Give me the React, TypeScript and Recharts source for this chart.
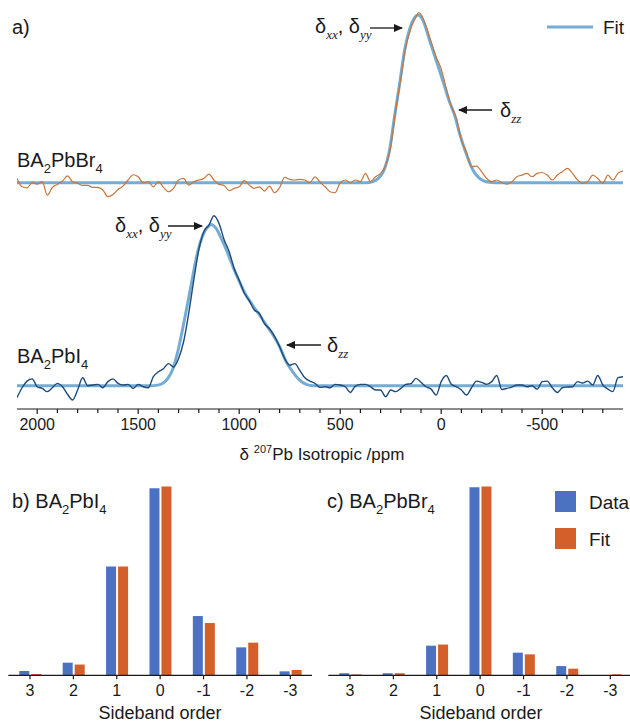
import React from 'react';
import { LineChart, Line, XAxis, YAxis, BarChart, Bar } from 'recharts';

const FONT = '"Liberation Sans", Arial, Helvetica, sans-serif';
const SERIF = '"Liberation Serif", "Times New Roman", serif';
const FIT_BLUE = '#74acd3';
const BR_ORANGE = '#c8753a';
const I_NAVY = '#1f4b7a';
const BAR_BLUE = '#4a72c0';
const BAR_ORANGE = '#d55f2b';
const INK = '#1a1a1a';

// 207Pb spectra, [ppm, normalised intensity]
const brSpectrum: [number, number][] = [
  [2100, 0.025], [2075, -0.024], [2050, -0.03], [2025, 0], [2000, -0.008], [1975, 0.006],
  [1950, -0.073], [1925, -0.027], [1900, -0.01], [1875, 0.01], [1850, 0.04], [1825, 0.006],
  [1800, -0.002], [1775, -0.016], [1750, -0.016], [1725, -0.027], [1700, -0.027], [1675, -0.043],
  [1650, -0.082], [1625, -0.069], [1600, -0.04], [1575, -0.02], [1550, 0.016], [1525, 0.047],
  [1500, 0.035], [1475, 0], [1450, 0.006], [1425, -0.024], [1400, 0.006], [1375, -0.027],
  [1350, -0.053], [1325, -0.033], [1300, 0.016], [1275, 0.025], [1250, -0.014], [1225, 0.006],
  [1200, 0.016], [1175, 0.025], [1150, 0.051], [1125, 0.016], [1100, -0.01], [1075, -0.016],
  [1050, -0.047], [1025, -0.033], [1000, -0.024], [975, 0.012], [950, -0.014], [925, -0.033],
  [900, -0.024], [875, -0.049], [850, -0.02], [825, -0.059], [800, -0.029], [775, 0.031],
  [750, 0.02], [725, 0.016], [700, 0.02], [675, 0.016], [650, 0], [625, 0.035],
  [600, 0.004], [575, -0.024], [550, -0.053], [525, -0.059], [500, 0], [475, 0.016],
  [450, 0], [425, 0.016], [400, 0.006], [375, 0.055], [350, 0.006], [325, 0.035],
  [300, 0.055], [275, 0.1], [250, 0.21], [225, 0.43], [200, 0.61], [175, 0.8],
  [150, 0.91], [125, 0.975], [112, 1.0], [100, 0.99], [75, 0.92], [50, 0.83], [25, 0.74],
  [0, 0.67], [-25, 0.555], [-50, 0.45], [-75, 0.38], [-100, 0.25], [-125, 0.18],
  [-150, 0.094], [-175, 0.098], [-200, 0.065], [-225, 0.025], [-250, 0.006], [-275, 0.016],
  [-300, 0], [-325, -0.008], [-350, 0.006], [-375, 0.035], [-400, 0.045], [-425, 0.055],
  [-450, 0.035], [-475, 0.055], [-500, 0.06], [-525, 0.045], [-550, 0.016], [-575, 0.045],
  [-600, 0.065], [-625, 0.084], [-650, 0.055], [-675, 0.016], [-700, -0.004], [-725, 0.006],
  [-750, 0.045], [-775, 0.025], [-800, -0.004], [-825, 0.045], [-850, 0.016], [-875, 0.055],
  [-900, 0.07],
];

const brFit: [number, number][] = [
  [2100, 0], [400, 0], [355, 0.002], [322, 0.016], [280, 0.084], [256, 0.19], [231, 0.39],
  [206, 0.58], [181, 0.78], [157, 0.9], [132, 0.97], [116, 0.986], [91, 0.957], [58, 0.84],
  [25, 0.72], [-8, 0.6], [-41, 0.476], [-66, 0.4], [-91, 0.29], [-124, 0.17], [-157, 0.075],
  [-190, 0.025], [-223, 0.006], [-272, 0], [-900, 0],
];

const iSpectrum: [number, number][] = [
  [2100, -0.07], [2075, -0.012], [2050, 0.027], [2025, 0.04], [2000, -0.006], [1975, -0.016],
  [1950, -0.035], [1925, -0.012], [1900, 0.014], [1875, -0.006], [1850, -0.05], [1825, -0.084],
  [1800, -0.025], [1775, 0.047], [1750, 0], [1725, 0.004], [1700, 0.008], [1675, -0.012],
  [1650, 0.024], [1625, 0.04], [1600, 0.014], [1575, 0.004], [1550, 0.008], [1525, -0.016],
  [1500, 0.008], [1475, -0.006], [1450, -0.012], [1425, 0.053], [1400, 0.082], [1375, 0.1],
  [1350, 0.13], [1325, 0.11], [1300, 0.16], [1275, 0.26], [1250, 0.425], [1225, 0.62],
  [1200, 0.8], [1175, 0.906], [1150, 0.945], [1125, 1.0], [1100, 0.955], [1075, 0.86],
  [1050, 0.79], [1025, 0.69], [1000, 0.62], [975, 0.545], [950, 0.5], [925, 0.445],
  [900, 0.425], [875, 0.365], [850, 0.335], [825, 0.29], [800, 0.23], [775, 0.16],
  [750, 0.12], [725, 0.13], [700, 0.09], [675, 0.047], [650, 0.027], [625, 0.014],
  [600, -0.01], [575, -0.006], [550, -0.012], [525, 0.008], [500, 0.004], [475, -0.006],
  [450, -0.04], [425, -0.002], [400, 0.008], [375, 0.008], [350, -0.006], [325, -0.025],
  [300, -0.025], [275, -0.065], [250, -0.025], [225, -0.035], [200, -0.016], [175, 0.008],
  [150, 0.012], [125, 0.043], [100, 0.02], [75, -0.006], [50, -0.02], [25, -0.055],
  [0, 0.024], [-25, 0.06], [-50, 0.008], [-75, -0.006], [-100, -0.025], [-125, -0.055],
  [-150, -0.012], [-175, 0.027], [-200, 0.02], [-225, 0.008], [-250, 0.024], [-275, 0.06],
  [-300, -0.022], [-325, -0.016], [-350, -0.008], [-375, 0.004], [-400, 0.004], [-425, -0.006],
  [-450, 0], [-475, -0.02], [-500, 0.024], [-525, 0.027], [-550, -0.012], [-575, -0.04],
  [-600, -0.012], [-625, -0.008], [-650, -0.006], [-675, 0.024], [-700, 0.016], [-725, 0.027],
  [-750, 0.004], [-775, 0.06], [-800, 0.004], [-825, -0.02], [-850, -0.035], [-875, 0.047],
  [-900, 0.053],
];

const iFit: [number, number][] = [
  [2100, 0], [1440, 0], [1411, 0.002], [1378, 0.014], [1353, 0.043], [1328, 0.1], [1304, 0.2],
  [1279, 0.34], [1254, 0.49], [1229, 0.65], [1205, 0.79], [1180, 0.886], [1155, 0.935],
  [1139, 0.949], [1114, 0.925], [1089, 0.867], [1064, 0.8], [1031, 0.7], [998, 0.61],
  [965, 0.53], [932, 0.47], [899, 0.416], [866, 0.357], [833, 0.3], [800, 0.23], [767, 0.14],
  [734, 0.08], [701, 0.033], [668, 0.008], [635, 0], [-900, 0],
];

const ppmTicks = [
  2000, 1900, 1800, 1700, 1600, 1500, 1400, 1300, 1200, 1100, 1000, 900, 800, 700, 600,
  500, 400, 300, 200, 100, 0, -100, -200, -300, -400, -500, -600, -700, -800,
];
const ppmLabels = [2000, 1500, 1000, 500, 0, -500];

// sideband manifolds
const sidebandOrders = ['3', '2', '1', '0', '-1', '-2', '-3'];
const pbiData = [0.023, 0.067, 0.576, 0.991, 0.314, 0.148, 0.021];
const pbiFit = [0.007, 0.057, 0.576, 1.0, 0.277, 0.173, 0.028];
const pbbrData = [0.011, 0.011, 0.157, 0.996, 0.12, 0.049, 0];
const pbbrFit = [0.005, 0.011, 0.163, 1.0, 0.111, 0.035, 0.005];

const BR_OFFSET = 1.194; // vertical stacking of the two spectra

const toRows = (pts: [number, number][], offset = 0) => pts.map(([ppm, v]) => ({ ppm, y: v + offset }));
const barRows = (data: number[], fit: number[]) =>
  sidebandOrders.map((order, i) => ({ order, data: data[i], fit: fit[i] }));

const PpmTick = (props: any) => {
  const { x, y, payload } = props;
  const major = ppmLabels.includes(payload.value);
  return (
    <g>
      <line x1={x} x2={x} y1={y} y2={y + (major ? 5 : 4)} stroke={INK} strokeWidth={1.2} />
      {major && (
        <text x={x} y={y + 21} textAnchor="middle" fontSize={16} fill={INK} fontFamily={FONT}>
          {payload.value}
        </text>
      )}
    </g>
  );
};

const OrderTick = (props: any) => {
  const { x, y, payload } = props;
  return (
    <g>
      <line x1={x} x2={x} y1={y} y2={y + 4} stroke={INK} strokeWidth={1.2} />
      <text x={x} y={y + 21} textAnchor="middle" fontSize={16} fill={INK} fontFamily={FONT}>
        {payload.value}
      </text>
    </g>
  );
};

const SidebandChart = ({ data, fit, left }: { data: number[]; fit: number[]; left: number }) => (
  <div style={{ position: 'absolute', left, top: 470 }}>
    <BarChart
      width={312}
      height={250}
      data={barRows(data, fit)}
      margin={{ top: 16.6, right: 0, left: 8.3, bottom: 14.7 }}
      barSize={10}
      barGap={2}
    >
      <XAxis
        dataKey="order"
        interval={0}
        tick={<OrderTick />}
        tickLine={false}
        tickSize={0}
        tickMargin={0}
        axisLine={{ stroke: INK, strokeWidth: 1.2 }}
        height={30}
      />
      <YAxis hide domain={[0, 1]} />
      <Bar dataKey="data" fill={BAR_BLUE} isAnimationActive={false} />
      <Bar dataKey="fit" fill={BAR_ORANGE} isAnimationActive={false} />
    </BarChart>
  </div>
);

const Sub = ({ children, size = 13 }: { children: React.ReactNode; size?: number }) => (
  <tspan dy={6} fontSize={size}>{children}</tspan>
);

const App = () => {
  return (
    <div style={{ position: 'absolute', left: 0, top: 0, width: 630, height: 724, overflow: 'hidden', background: '#fff', fontFamily: FONT }}>
      <div style={{ position: 'absolute', left: 0, top: 0 }}>
        <LineChart width={630} height={470} margin={{ top: 10, right: 7, left: 17, bottom: 30 }}>
          <XAxis
            type="number"
            dataKey="ppm"
            domain={[-900, 2100]}
            reversed
            allowDataOverflow
            ticks={ppmTicks}
            interval={0}
            tick={<PpmTick />}
            tickLine={false}
            tickSize={0}
            tickMargin={0}
            axisLine={{ stroke: INK, strokeWidth: 1.2 }}
            height={31}
          />
          <YAxis hide type="number" domain={[-0.137, 2.21]} allowDataOverflow />
          <Line data={toRows(brFit, BR_OFFSET)} dataKey="y" type="monotone" stroke={FIT_BLUE} strokeWidth={3} dot={false} isAnimationActive={false} />
          <Line data={toRows(iFit)} dataKey="y" type="monotone" stroke={FIT_BLUE} strokeWidth={3} dot={false} isAnimationActive={false} />
          <Line data={toRows(brSpectrum, BR_OFFSET)} dataKey="y" type="monotone" stroke={BR_ORANGE} strokeWidth={1.2} dot={false} isAnimationActive={false} />
          <Line data={toRows(iSpectrum)} dataKey="y" type="monotone" stroke={I_NAVY} strokeWidth={1.4} dot={false} isAnimationActive={false} />
        </LineChart>
      </div>

      <SidebandChart data={pbiData} fit={pbiFit} left={0} />
      <SidebandChart data={pbbrData} fit={pbbrFit} left={320} />

      <svg width={630} height={724} style={{ position: 'absolute', left: 0, top: 0, pointerEvents: 'none' }} fontFamily={FONT} fill={INK}>
        <defs>
          <marker id="head" markerUnits="userSpaceOnUse" markerWidth={9} markerHeight={8} refX={8} refY={4} orient="auto">
            <path d="M0,0 L9,4 L0,8 z" fill={INK} />
          </marker>
        </defs>

        <text x={12} y={34} fontSize={20}>a)</text>

        {/* legend of the spectra */}
        <line x1={547} x2={593} y1={27} y2={27} stroke={FIT_BLUE} strokeWidth={3} />
        <text x={603} y={34} fontSize={19}>Fit</text>

        <text x={17} y={167} fontSize={20}>BA<Sub>2</Sub><tspan dy={-6}>PbBr</tspan><Sub>4</Sub></text>
        <text x={17} y={363} fontSize={20}>BA<Sub>2</Sub><tspan dy={-6}>PbI</tspan><Sub>4</Sub></text>

        {/* tensor components, BA2PbBr4 */}
        <text x={315} y={33} fontSize={20}>
          δ<tspan dy={6} fontSize={13} fontStyle="italic" fontFamily={SERIF}>xx</tspan>
          <tspan dy={-6}>, δ</tspan>
          <tspan dy={6} fontSize={13} fontStyle="italic" fontFamily={SERIF}>yy</tspan>
        </text>
        <line x1={370} x2={402} y1={28} y2={28} stroke={INK} strokeWidth={1.3} markerEnd="url(#head)" />
        <line x1={492} x2={459} y1={110} y2={110} stroke={INK} strokeWidth={1.3} markerEnd="url(#head)" />
        <text x={500} y={117} fontSize={20}>
          δ<tspan dy={6} fontSize={13} fontStyle="italic" fontFamily={SERIF}>zz</tspan>
        </text>

        {/* tensor components, BA2PbI4 */}
        <text x={115} y={232} fontSize={20}>
          δ<tspan dy={6} fontSize={13} fontStyle="italic" fontFamily={SERIF}>xx</tspan>
          <tspan dy={-6}>, δ</tspan>
          <tspan dy={6} fontSize={13} fontStyle="italic" fontFamily={SERIF}>yy</tspan>
        </text>
        <line x1={168} x2={202} y1={226} y2={226} stroke={INK} strokeWidth={1.3} markerEnd="url(#head)" />
        <line x1={321} x2={287} y1={345} y2={345} stroke={INK} strokeWidth={1.3} markerEnd="url(#head)" />
        <text x={327} y={352} fontSize={20}>
          δ<tspan dy={6} fontSize={13} fontStyle="italic" fontFamily={SERIF}>zz</tspan>
        </text>

        <text x={322} y={460} fontSize={17} textAnchor="middle">
          δ <tspan dy={-7} fontSize={11}>207</tspan><tspan dy={7}>Pb Isotropic /ppm</tspan>
        </text>

        <text x={12} y={508} fontSize={20}>b) BA<Sub>2</Sub><tspan dy={-6}>PbI</tspan><Sub>4</Sub></text>
        <text x={327} y={508} fontSize={20}>c) BA<Sub>2</Sub><tspan dy={-6}>PbBr</tspan><Sub>4</Sub></text>

        {/* legend of the sideband fits */}
        <rect x={555} y={491} width={21} height={21} fill={BAR_BLUE} />
        <text x={589} y={509} fontSize={19}>Data</text>
        <rect x={555} y={528} width={21} height={21} fill={BAR_ORANGE} />
        <text x={589} y={546} fontSize={19}>Fit</text>

        <text x={160} y={719} fontSize={18} textAnchor="middle">Sideband order</text>
        <text x={481} y={719} fontSize={18} textAnchor="middle">Sideband order</text>
      </svg>
    </div>
  );
};

export default App;
